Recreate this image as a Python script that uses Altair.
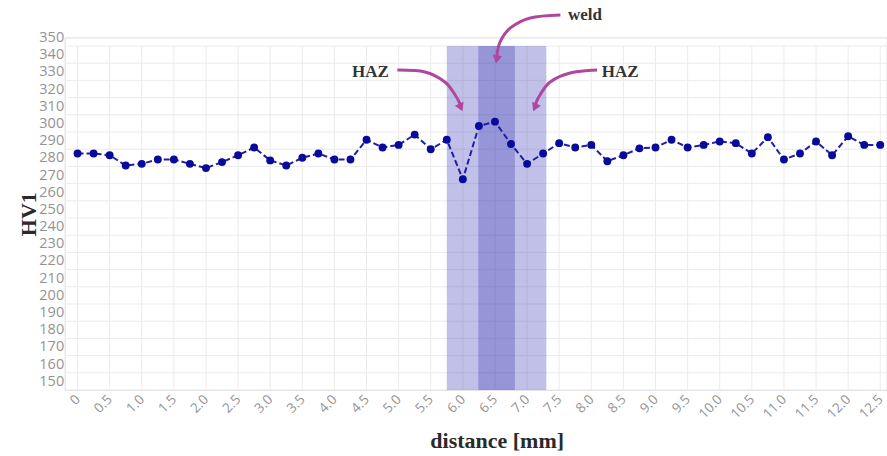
import altair as alt
import pandas as pd

# ---------------- data ----------------
distance = [0.0, 0.25, 0.5, 0.75, 1.0, 1.25, 1.5, 1.75, 2.0, 2.25, 2.5, 2.75,
            3.0, 3.25, 3.5, 3.75, 4.0, 4.25, 4.5, 4.75, 5.0, 5.25, 5.5, 5.75,
            6.0, 6.25, 6.5, 6.75, 7.0, 7.25, 7.5, 7.75, 8.0, 8.25, 8.5, 8.75,
            9.0, 9.25, 9.5, 9.75, 10.0, 10.25, 10.5, 10.75, 11.0, 11.25, 11.5,
            11.75, 12.0, 12.25, 12.5]
hv1 = [282.5, 282.5, 281.5, 275.5, 276.5, 279, 279, 276.5, 274, 277.5, 281.5, 286,
       278.5, 275.5, 280, 282.5, 279, 279, 290.5, 286, 287.5, 293.5, 285, 290.5,
       267.5, 298.5, 301, 288, 276.5, 282.5, 288.5, 286, 287.5, 278, 281.5, 285.5,
       286, 290.5, 286, 287.5, 289.5, 288.5, 282.5, 292, 279, 282.5, 289.5,
       281.5, 292.5, 287.5, 287.5]

zone_name = ["HAZ", "weld"]
zone_start = [5.75, 6.24]
zone_end = [7.30, 6.81]

x_ticks = [0, 0.5, 1.0, 1.5, 2.0, 2.5, 3.0, 3.5, 4.0, 4.5, 5.0, 5.5, 6.0, 6.5,
           7.0, 7.5, 8.0, 8.5, 9.0, 9.5, 10.0, 10.5, 11.0, 11.5, 12.0, 12.5]
y_ticks = [150, 160, 170, 180, 190, 200, 210, 220, 230, 240, 250, 260, 270,
           280, 290, 300, 310, 320, 330, 340, 350]
grid_y = [145, 155, 165, 175, 185, 195, 205, 215, 225, 235, 245, 255, 265,
          275, 285, 295, 305, 315, 325, 335, 345]
grid_bottom, grid_top = 145, 345

label_text = ["weld", "HAZ", "HAZ"]
label_x = [7.9, 4.56, 8.45]
label_y = [363, 330, 330]

arrow_id = ["weld"] * 5 + ["hazL"] * 5 + ["hazR"] * 5
arrow_ord = [0, 1, 2, 3, 4] * 3
arrow_x = [7.52, 7.05, 6.74, 6.58, 6.53,
           4.98, 5.41, 5.72, 5.88, 5.96,
           8.09, 7.67, 7.36, 7.20, 7.13]
arrow_y = [363, 361.3, 355.5, 347.4, 339,
           331, 329.9, 324.1, 316.5, 311,
           331, 329.3, 324.1, 316.5, 311]
head_x = [6.53, 5.96, 7.13]
head_y = [338, 310, 310]
head_angle = [190, 156, 204]

# ---------------- frames ----------------
df = pd.DataFrame({"distance": distance, "hv1": hv1})
zones = pd.DataFrame({"zone": zone_name, "x0": zone_start, "x1": zone_end,
                      "top": [grid_top] * 2, "bottom": [grid_bottom] * 2})
hgrid = pd.DataFrame({"g": grid_y})
vgrid = pd.DataFrame({"v": x_ticks, "b": [grid_bottom] * len(x_ticks),
                      "t": [grid_top] * len(x_ticks)})
labels = pd.DataFrame({"t": label_text, "x": label_x, "y": label_y})
arrows = pd.DataFrame({"id": arrow_id, "o": arrow_ord, "x": arrow_x, "y": arrow_y})
heads = pd.DataFrame({"x": head_x, "y": head_y, "a": head_angle})

W, H = 822, 352.6
xs = alt.Scale(domain=[-0.2, 12.6], nice=False, zero=False)
ys = alt.Scale(domain=[145, 350], nice=False, zero=False)

x_axis = alt.Axis(values=x_ticks, grid=False,
                  domain=False, ticks=False, labelAngle=315, labelAlign="right",
                  labelBaseline="middle", labelPadding=7, labelFontSize=13.5,
                  labelFont="Open Sans", labelColor="#939393",
                  labelExpr="datum.value == 0 ? '0' : format(datum.value, '.1f')",
                  labelOverlap=False,
                  title="distance [mm]", titleFont="Liberation Serif",
                  titleFontWeight="bold", titleFontSize=22, titleColor="#2a2a2a",
                  titleX=432, titleY=51, titleBaseline="middle", titleAlign="center")
y_axis = alt.Axis(values=y_ticks, grid=False, domain=False, ticks=False,
                  labelPadding=1, labelFontSize=14.5, labelFont="Open Sans",
                  labelColor="#939393", labelOverlap=False,
                  title="HV1", titleFont="Liberation Serif", titleFontWeight="bold",
                  titleFontSize=22, titleColor="#2a2a2a", titleX=-36,
                  titleBaseline="middle", titleAlign="center", titleAngle=270)

hlines = alt.Chart(hgrid).mark_rule(color="#ebebeb", strokeWidth=1).encode(
    y=alt.Y("g:Q", scale=ys, axis=y_axis)
)

vlines = alt.Chart(vgrid).mark_rule(color="#ebebeb", strokeWidth=1).encode(
    x=alt.X("v:Q", scale=xs, axis=x_axis),
    y=alt.Y("b:Q", scale=ys, axis=y_axis), y2="t:Q"
)

bands = alt.Chart(zones).mark_rect(color="#3b3bb8", opacity=0.32).encode(
    x=alt.X("x0:Q", scale=xs, axis=x_axis), x2="x1:Q",
    y=alt.Y("top:Q", scale=ys, axis=y_axis), y2="bottom:Q"
)

line = alt.Chart(df).mark_line(color="#1f1fa6", strokeWidth=2,
                               strokeDash=[6, 3]).encode(
    x=alt.X("distance:Q", scale=xs, axis=x_axis),
    y=alt.Y("hv1:Q", scale=ys, axis=y_axis)
)

points = alt.Chart(df).mark_point(filled=True, color="#0a0a9a", size=62,
                                  opacity=1).encode(
    x=alt.X("distance:Q", scale=xs, axis=x_axis),
    y=alt.Y("hv1:Q", scale=ys, axis=y_axis)
)

arrow_lines = alt.Chart(arrows).mark_line(color="#b0479f", strokeWidth=3,
                                          interpolate="cardinal").encode(
    x=alt.X("x:Q", scale=xs, axis=x_axis),
    y=alt.Y("y:Q", scale=ys, axis=y_axis),
    detail="id:N", order="o:Q"
)

arrow_heads = alt.Chart(heads).mark_point(shape="triangle", filled=True,
                                          color="#b0479f", size=90,
                                          opacity=1).encode(
    x=alt.X("x:Q", scale=xs, axis=x_axis),
    y=alt.Y("y:Q", scale=ys, axis=y_axis),
    angle=alt.Angle("a:Q", scale=None)
)

texts = alt.Chart(labels).mark_text(font="Liberation Serif", fontWeight="bold",
                                    fontSize=17, color="#333333").encode(
    x=alt.X("x:Q", scale=xs, axis=x_axis),
    y=alt.Y("y:Q", scale=ys, axis=y_axis),
    text="t:N"
)

chart = alt.layer(
    hlines, vlines, bands, line, points, arrow_lines, arrow_heads, texts
).properties(
    width=W, height=H,
    autosize=alt.AutoSizeParams(type="none"),
    padding={"left": 64.7, "top": 37.4, "right": 0, "bottom": 66},
).configure_view(strokeWidth=0).configure(background="white")

chart.save("out.html", embed_options={"renderer": "svg", "actions": False})
